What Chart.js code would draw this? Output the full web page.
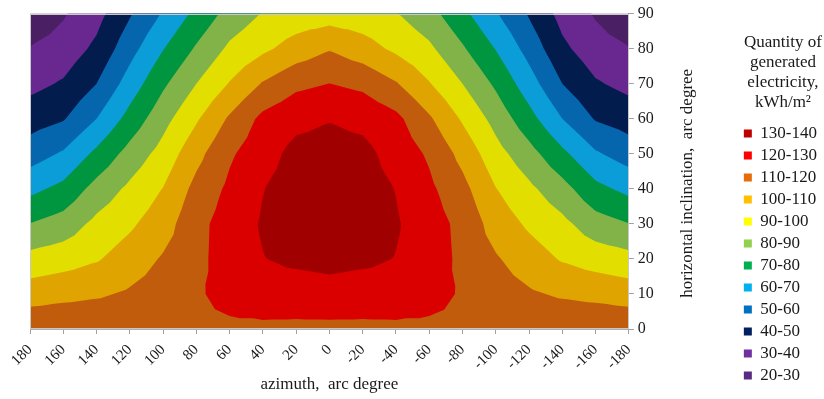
<!DOCTYPE html>
<html>
<head>
<meta charset="utf-8">
<script src="https://cdn.jsdelivr.net/npm/chart.js@4/dist/chart.umd.min.js"></script>
<style>
  html, body { margin: 0; padding: 0; background: #ffffff; }
  #wrap { width: 824px; height: 399px; }
</style>
</head>
<body>
<div id="wrap"><canvas id="chart" width="824" height="399"></canvas></div>
<script>
// Grid of the surface: azimuth (columns) and inclination (rows), arc degrees
const azimuth = [180, 160, 140, 120, 100, 80, 60, 40, 20, 0, -20, -40, -60, -80, -100, -120, -140, -160, -180];
const inclination = [0, 10, 20, 30, 40, 50, 60, 70, 80, 90];

// Generated electricity, kWh/m2 — one array per inclination, ordered like `azimuth`
const inc0  = [118, 118, 118, 118, 118, 118, 118, 118, 118, 118, 118, 118, 118, 118, 118, 118, 118, 118, 118];
const inc10 = [105.4, 107.3, 108.7, 111.3, 114.5, 118.7, 123.4, 125.7, 125, 125.6, 125, 125.7, 123.4, 119, 114.5, 111.3, 108.7, 107.3, 105.4];
const inc20 = [93.2, 95.7, 99.1, 104.8, 111, 117.2, 125, 129.7, 132, 133.5, 132, 129.7, 125, 117.8, 111, 104.8, 99.1, 95.7, 93.2];
const inc30 = [80.2, 84.3, 92.6, 98.4, 105.6, 117, 124.5, 131, 135, 136, 135, 131, 124.5, 117.3, 105.6, 98.4, 92.6, 84.3, 80.2];
const inc40 = [67.4, 72.7, 83.6, 92.1, 100.3, 113, 122, 129.7, 134.5, 136.5, 134.5, 129.7, 122, 113, 100.3, 92.1, 83.6, 72.7, 67.4];
const inc50 = [55.4, 61.2, 72.3, 83.7, 93.8, 106.9, 118.6, 126, 133, 134, 133, 126, 118.6, 106.9, 93.8, 83.7, 72.3, 61.2, 55.4];
const inc60 = [45.5, 49.2, 60, 73.6, 86.5, 98.8, 111.4, 122.5, 127.3, 129.5, 127.3, 122.5, 111.4, 98.8, 86.5, 73.6, 60, 49.2, 45.5];
const inc70 = [37.1, 41.1, 50, 64.5, 78.3, 90, 100.6, 110.8, 117.7, 120.1, 117.7, 110.8, 100.6, 90, 78.3, 64.5, 50, 41.1, 37.1];
const inc80 = [30.5, 34.1, 42.2, 56.3, 69.6, 81.2, 91.9, 98, 104.3, 109.3, 104.3, 98, 91.9, 81.2, 69.6, 56.3, 42.2, 34.1, 30.5];
const inc90 = [22.7, 29, 36.5, 49, 60.9, 72.5, 83.5, 90.5, 94, 95.2, 94, 90.5, 83.5, 72.5, 60.9, 49, 36.5, 29, 22.7];

// Value bands (lower bound of each band) and their legend texts
const bandFrom   = [130, 120, 110, 100, 90, 80, 70, 60, 50, 40, 30, 20];
const bandLabels = ['130-140', '120-130', '110-120', '100-110', '90-100', '80-90', '70-80', '60-70', '50-60', '40-50', '30-40', '20-30'];

const xTicks = [-180, -160, -140, -120, -100, -80, -60, -40, -20, 0, 20, 40, 60, 80, 100, 120, 140, 160, 180];
const yTicks = [0, 10, 20, 30, 40, 50, 60, 70, 80, 90];

// Styles
const fillColors = ['#a00000', '#db0000', '#c05c0c', '#e0a400', '#e2df00', '#82b349', '#00963f', '#0a9dd8', '#0566ae', '#021c4e', '#68288f', '#4b1f63'];
const legendColors = ['#c00000', '#ff0000', '#e46c0a', '#ffc000', '#ffff00', '#92d050', '#00b050', '#00b0f0', '#0070c0', '#002060', '#7030a0', '#582c83'];
const SERIF = '"Liberation Serif", "Times New Roman", serif';
const TEXT = '#1a1a1a';
const yTitle = 'horizontal inclination,  arc degree';

const rows = [inc0, inc10, inc20, inc30, inc40, inc50, inc60, inc70, inc80, inc90];

// Split every grid cell into four triangles around its centre point
function buildTriangles() {
  const tris = [];
  for (let j = 0; j < inclination.length - 1; j++) {
    for (let i = 0; i < azimuth.length - 1; i++) {
      const p = [
        [azimuth[i], inclination[j], rows[j][i]],
        [azimuth[i + 1], inclination[j], rows[j][i + 1]],
        [azimuth[i + 1], inclination[j + 1], rows[j + 1][i + 1]],
        [azimuth[i], inclination[j + 1], rows[j + 1][i]]
      ];
      const c = [
        (p[0][0] + p[1][0]) / 2,
        (p[0][1] + p[3][1]) / 2,
        (p[0][2] + p[1][2] + p[2][2] + p[3][2]) / 4
      ];
      for (let k = 0; k < 4; k++) tris.push([p[k], p[(k + 1) % 4], c]);
    }
  }
  return tris;
}

// Part of a polygon (linear values at its vertices) where value >= level
function clipAbove(poly, level) {
  const out = [];
  for (let k = 0; k < poly.length; k++) {
    const a = poly[k], b = poly[(k + 1) % poly.length];
    const ina = a[2] >= level, inb = b[2] >= level;
    if (ina) out.push(a);
    if (ina !== inb) {
      const t = (level - a[2]) / (b[2] - a[2]);
      out.push([a[0] + t * (b[0] - a[0]), a[1] + t * (b[1] - a[1]), level]);
    }
  }
  return out;
}

const contourPlugin = {
  id: 'contourFill',
  beforeDatasetsDraw(chart) {
    const { ctx, chartArea: area, scales } = chart;
    const xs = scales.x, ys = scales.y;
    const tris = buildTriangles();
    ctx.save();
    ctx.beginPath();
    ctx.rect(area.left, area.top, area.right - area.left, area.bottom - area.top);
    ctx.clip();
    // lowest band first, then each higher band painted over it
    const order = bandFrom.map((v, i) => i).sort((a, b) => bandFrom[a] - bandFrom[b]);
    order.forEach((bi, n) => {
      ctx.fillStyle = fillColors[bi];
      if (n === 0) {
        ctx.fillRect(area.left, area.top, area.right - area.left, area.bottom - area.top);
        return;
      }
      ctx.beginPath();
      tris.forEach(t => {
        const poly = clipAbove(t, bandFrom[bi]);
        if (poly.length < 3) return;
        poly.forEach((pt, k) => {
          const px = xs.getPixelForValue(pt[0]);
          const py = ys.getPixelForValue(pt[1]);
          if (k === 0) ctx.moveTo(px, py); else ctx.lineTo(px, py);
        });
        ctx.closePath();
      });
      ctx.fill();
    });
    ctx.restore();
    ctx.save();
    ctx.strokeStyle = '#c8c8c8';
    ctx.lineWidth = 1;
    ctx.strokeRect(Math.round(area.left) + 0.5, Math.round(area.top) + 0.5,
      Math.round(area.right - area.left) - 1, Math.round(area.bottom - area.top) - 1);
    ctx.restore();
  },
  afterDraw(chart) {
    const { ctx, chartArea: area } = chart;
    ctx.save();
    ctx.font = '17px ' + SERIF;
    ctx.fillStyle = TEXT;
    ctx.textAlign = 'center';
    ctx.textBaseline = 'middle';
    ctx.translate(area.right + 59, (area.top + area.bottom) / 2 + 12);
    ctx.rotate(-Math.PI / 2);
    ctx.fillText(yTitle, 0, 0);
    ctx.restore();
  }
};

new Chart(document.getElementById('chart'), {
  type: 'scatter',
  data: {
    datasets: bandLabels.map((label, i) => ({
      label,
      data: [],
      backgroundColor: legendColors[i],
      borderColor: legendColors[i],
      borderWidth: 0
    }))
  },
  options: {
    responsive: false,
    animation: false,
    devicePixelRatio: 1,
    layout: { padding: { left: 30, top: 6, right: -3, bottom: 2 } },
    plugins: {
      tooltip: { enabled: false },
      legend: {
        position: 'right',
        align: 'start',
        title: {
          display: true,
          text: ['Quantity of', 'generated', 'electricity,', 'kWh/m²'],
          color: TEXT,
          font: { family: SERIF, size: 17, lineHeight: 1.18 },
          padding: { top: 28, bottom: 66 }
        },
        labels: {
          boxWidth: 8,
          boxHeight: 8,
          padding: 5,
          color: TEXT,
          font: { family: SERIF, size: 17 },
          generateLabels: (chart) => chart.data.datasets.map((ds, i) => ({
            text: ds.label,
            fillStyle: legendColors[i],
            strokeStyle: legendColors[i],
            lineWidth: 0,
            hidden: false,
            datasetIndex: i
          }))
        }
      }
    },
    scales: {
      x: {
        type: 'linear',
        reverse: true,
        min: -180,
        max: 180,
        afterBuildTicks: (scale) => { scale.ticks = xTicks.map(v => ({ value: v })); },
        afterFit: (scale) => { scale.height = 68; },
        grid: { display: true, drawOnChartArea: false, tickLength: 5, color: '#a0a0a0' },
        border: { display: true, color: '#b0b0b0' },
        ticks: {
          autoSkip: false,
          minRotation: 45,
          maxRotation: 45,
          padding: 7,
          color: TEXT,
          font: { family: SERIF, size: 15 }
        },
        title: {
          display: true,
          text: 'azimuth,  arc degree',
          color: TEXT,
          font: { family: SERIF, size: 17 },
          padding: { top: 4, bottom: 2 }
        }
      },
      y: {
        type: 'linear',
        position: 'right',
        min: 0,
        max: 90,
        afterBuildTicks: (scale) => { scale.ticks = yTicks.map(v => ({ value: v })); },
        afterFit: (scale) => { scale.width = 110; },
        grid: { display: true, drawOnChartArea: false, tickLength: 5, color: '#a0a0a0' },
        border: { display: true, color: '#b0b0b0' },
        ticks: {
          padding: 4,
          color: TEXT,
          font: { family: SERIF, size: 16 }
        }
      }
    }
  },
  plugins: [contourPlugin]
});
</script>
</body>
</html>
